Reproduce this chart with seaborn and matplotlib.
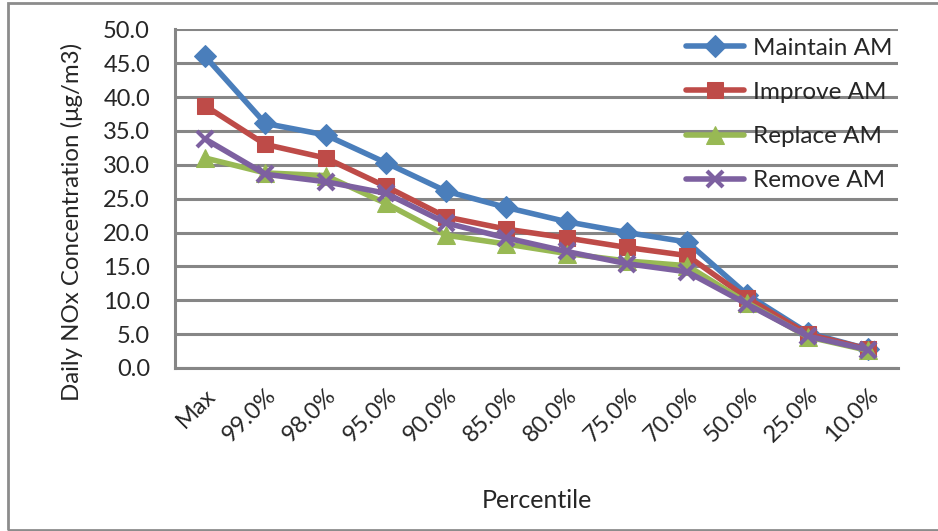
import matplotlib
matplotlib.use("Agg")
import matplotlib.pyplot as plt
import seaborn as sns
import pandas as pd
from matplotlib.patches import Rectangle

categories = ["Max", "99.0%", "98.0%", "95.0%", "90.0%", "85.0%", "80.0%",
              "75.0%", "70.0%", "50.0%", "25.0%", "10.0%"]
maintain_am = [46.0, 36.1, 34.4, 30.3, 26.1, 23.7, 21.6, 20.0, 18.6, 10.8, 5.2, 2.8]
improve_am = [38.7, 33.0, 31.0, 26.8, 22.3, 20.5, 19.2, 17.8, 16.6, 10.3, 5.0, 2.8]
replace_am = [31.0, 28.8, 28.4, 24.3, 19.6, 18.3, 16.9, 15.8, 15.1, 9.6, 4.6, 2.6]
remove_am = [33.8, 28.6, 27.5, 25.8, 21.4, 19.2, 17.2, 15.4, 14.2, 9.4, 4.7, 2.7]
series_names = ["Maintain AM", "Improve AM", "Replace AM", "Remove AM"]
y_ticks = [0, 5, 10, 15, 20, 25, 30, 35, 40, 45, 50]

rows = []
for name, vals in zip(series_names, [maintain_am, improve_am, replace_am, remove_am]):
    for i, (c, v) in enumerate(zip(categories, vals)):
        rows.append({"pos": i, "Percentile": c, "value": v, "series": name})
df = pd.DataFrame(rows)

sns.set_theme(style="white")
plt.rcParams["font.family"] = ["Lato", "DejaVu Sans"]

fig = plt.figure(figsize=(9.38, 5.31), dpi=100)
ax = fig.add_axes([175/938, 1-368/531, (898-175)/938, (368-29.3)/531])

palette = {"Maintain AM": "#4A7EBB", "Improve AM": "#BE4B48",
           "Replace AM": "#98B954", "Remove AM": "#7D60A0"}

mk_style = {"Maintain AM": dict(marker="D", markersize=11),
            "Improve AM": dict(marker="s", markersize=12),
            "Replace AM": dict(marker="^", markersize=13),
            "Remove AM": dict(marker="x", markersize=12, markeredgewidth=3)}

for name in series_names:
    sub = df[df["series"] == name]
    sns.lineplot(data=sub, x="pos", y="value", ax=ax, color=palette[name],
                 linewidth=4.0, label=name, sort=False,
                 markeredgecolor=palette[name], markerfacecolor=palette[name],
                 **mk_style[name])

ax.set_xlim(-0.5, len(categories) - 0.5)
ax.set_ylim(0, 50)
ax.set_yticks(y_ticks)
ax.set_yticklabels([f"{t:.1f}" for t in y_ticks], fontsize=17)
ax.set_xticks(range(len(categories)))
ax.set_xticklabels(categories, rotation=45, ha="right", rotation_mode="anchor", fontsize=17)
ax.tick_params(axis="x", length=0, pad=12)
ax.tick_params(axis="y", length=9, width=2.2, color="#868686", pad=9, direction="out")
ax.grid(axis="y", color="#868686", linewidth=2.2)
ax.set_axisbelow(True)
for s in ["top", "right"]:
    ax.spines[s].set_visible(False)
for s in ["left", "bottom"]:
    ax.spines[s].set_color("#868686")
    ax.spines[s].set_linewidth(2.2)

ax.set_ylabel("Daily NOx Concentration (μg/m3)", fontsize=17.3)
ax.yaxis.set_label_coords(-0.127, 0.431)
ax.set_xlabel("Percentile", fontsize=18, labelpad=31)

leg = ax.legend(loc="upper right", bbox_to_anchor=(1.012, 1.018), frameon=False,
                fontsize=17.5, handlelength=2.4, handletextpad=0.35, labelspacing=0.95,
                borderaxespad=0.2)

fig.patches.append(Rectangle((8/938, 1-530/531), 1.0, (527)/531, transform=fig.transFigure,
                             fill=False, edgecolor="#8C8C8C", linewidth=2.0))

fig.savefig("out.png", dpi=100)
